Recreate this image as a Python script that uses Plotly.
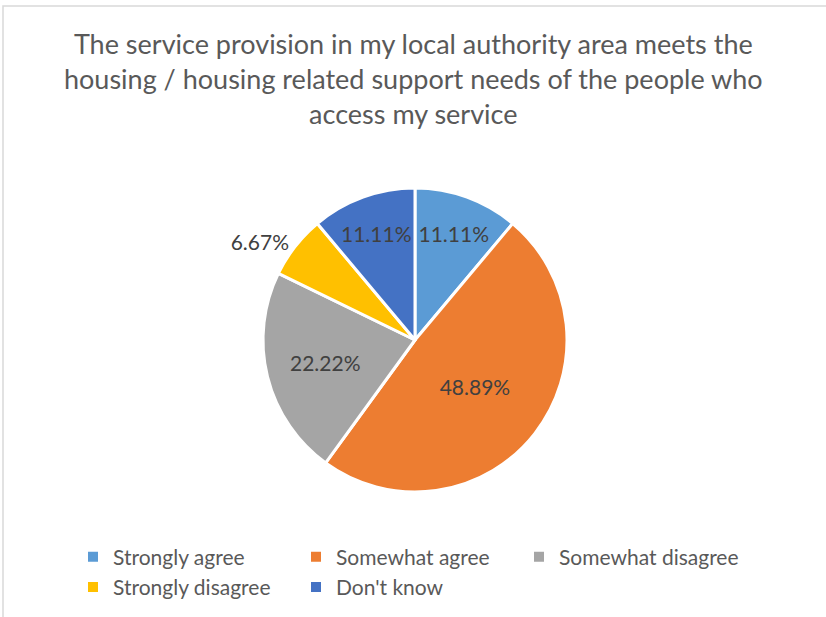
import plotly.graph_objects as go

labels = ["Strongly agree", "Somewhat agree", "Somewhat disagree", "Strongly disagree", "Don't know"]
values = [11.11, 48.89, 22.22, 6.67, 11.11]
colors = ["#5B9BD5", "#ED7D31", "#A5A5A5", "#FFC000", "#4472C4"]
text_positions = ["inside", "inside", "inside", "outside", "inside"]
title_text = ("The service provision in my local authority area meets the<br>"
              "housing / housing related support needs of the people who<br>"
              "access my service")

W, H = 826, 617
FONT = "Lato"

fig = go.Figure(go.Pie(
    labels=labels,
    values=values,
    marker=dict(colors=colors, line=dict(color="white", width=3)),
    sort=False,
    direction="clockwise",
    rotation=0,
    texttemplate="%{value:.2f}%",
    textposition=text_positions,
    insidetextorientation="horizontal",
    textfont=dict(family=FONT, size=21, color="#404040"),
    domain=dict(x=[263 / W, 567 / W], y=[1 - 492 / H, 1 - 188 / H]),
    hoverinfo="label+percent",
    showlegend=True,
))

fig.update_layout(
    width=W, height=H,
    margin=dict(l=0, r=0, t=0, b=0),
    paper_bgcolor="white",
    plot_bgcolor="white",
    showlegend=True,
    legend=dict(orientation="h", x=73 / W, xanchor="left", y=1 - 572 / H, yanchor="middle",
                entrywidth=178, entrywidthmode="pixels",
                font=dict(family=FONT, size=21, color="#595959"),
                itemsizing="constant", traceorder="normal",
                bgcolor="rgba(0,0,0,0)"),
    annotations=[dict(text=title_text, xref="paper", yref="paper", x=0.5, xanchor="center",
                      y=1 - 25 / H, yanchor="top", showarrow=False, align="center",
                      font=dict(family=FONT, size=27, color="#595959"))],
    shapes=[dict(type="rect", xref="paper", yref="paper", x0=3 / W, x1=1.2, y0=-0.2, y1=1 - 6 / H,
                 line=dict(color="#D9D9D9", width=1.5), fillcolor="rgba(0,0,0,0)")],
)

fig.write_html("out.html", config={"displayModeBar": False},
               post_script="document.body.style.margin='0';document.body.style.overflow='hidden';")
